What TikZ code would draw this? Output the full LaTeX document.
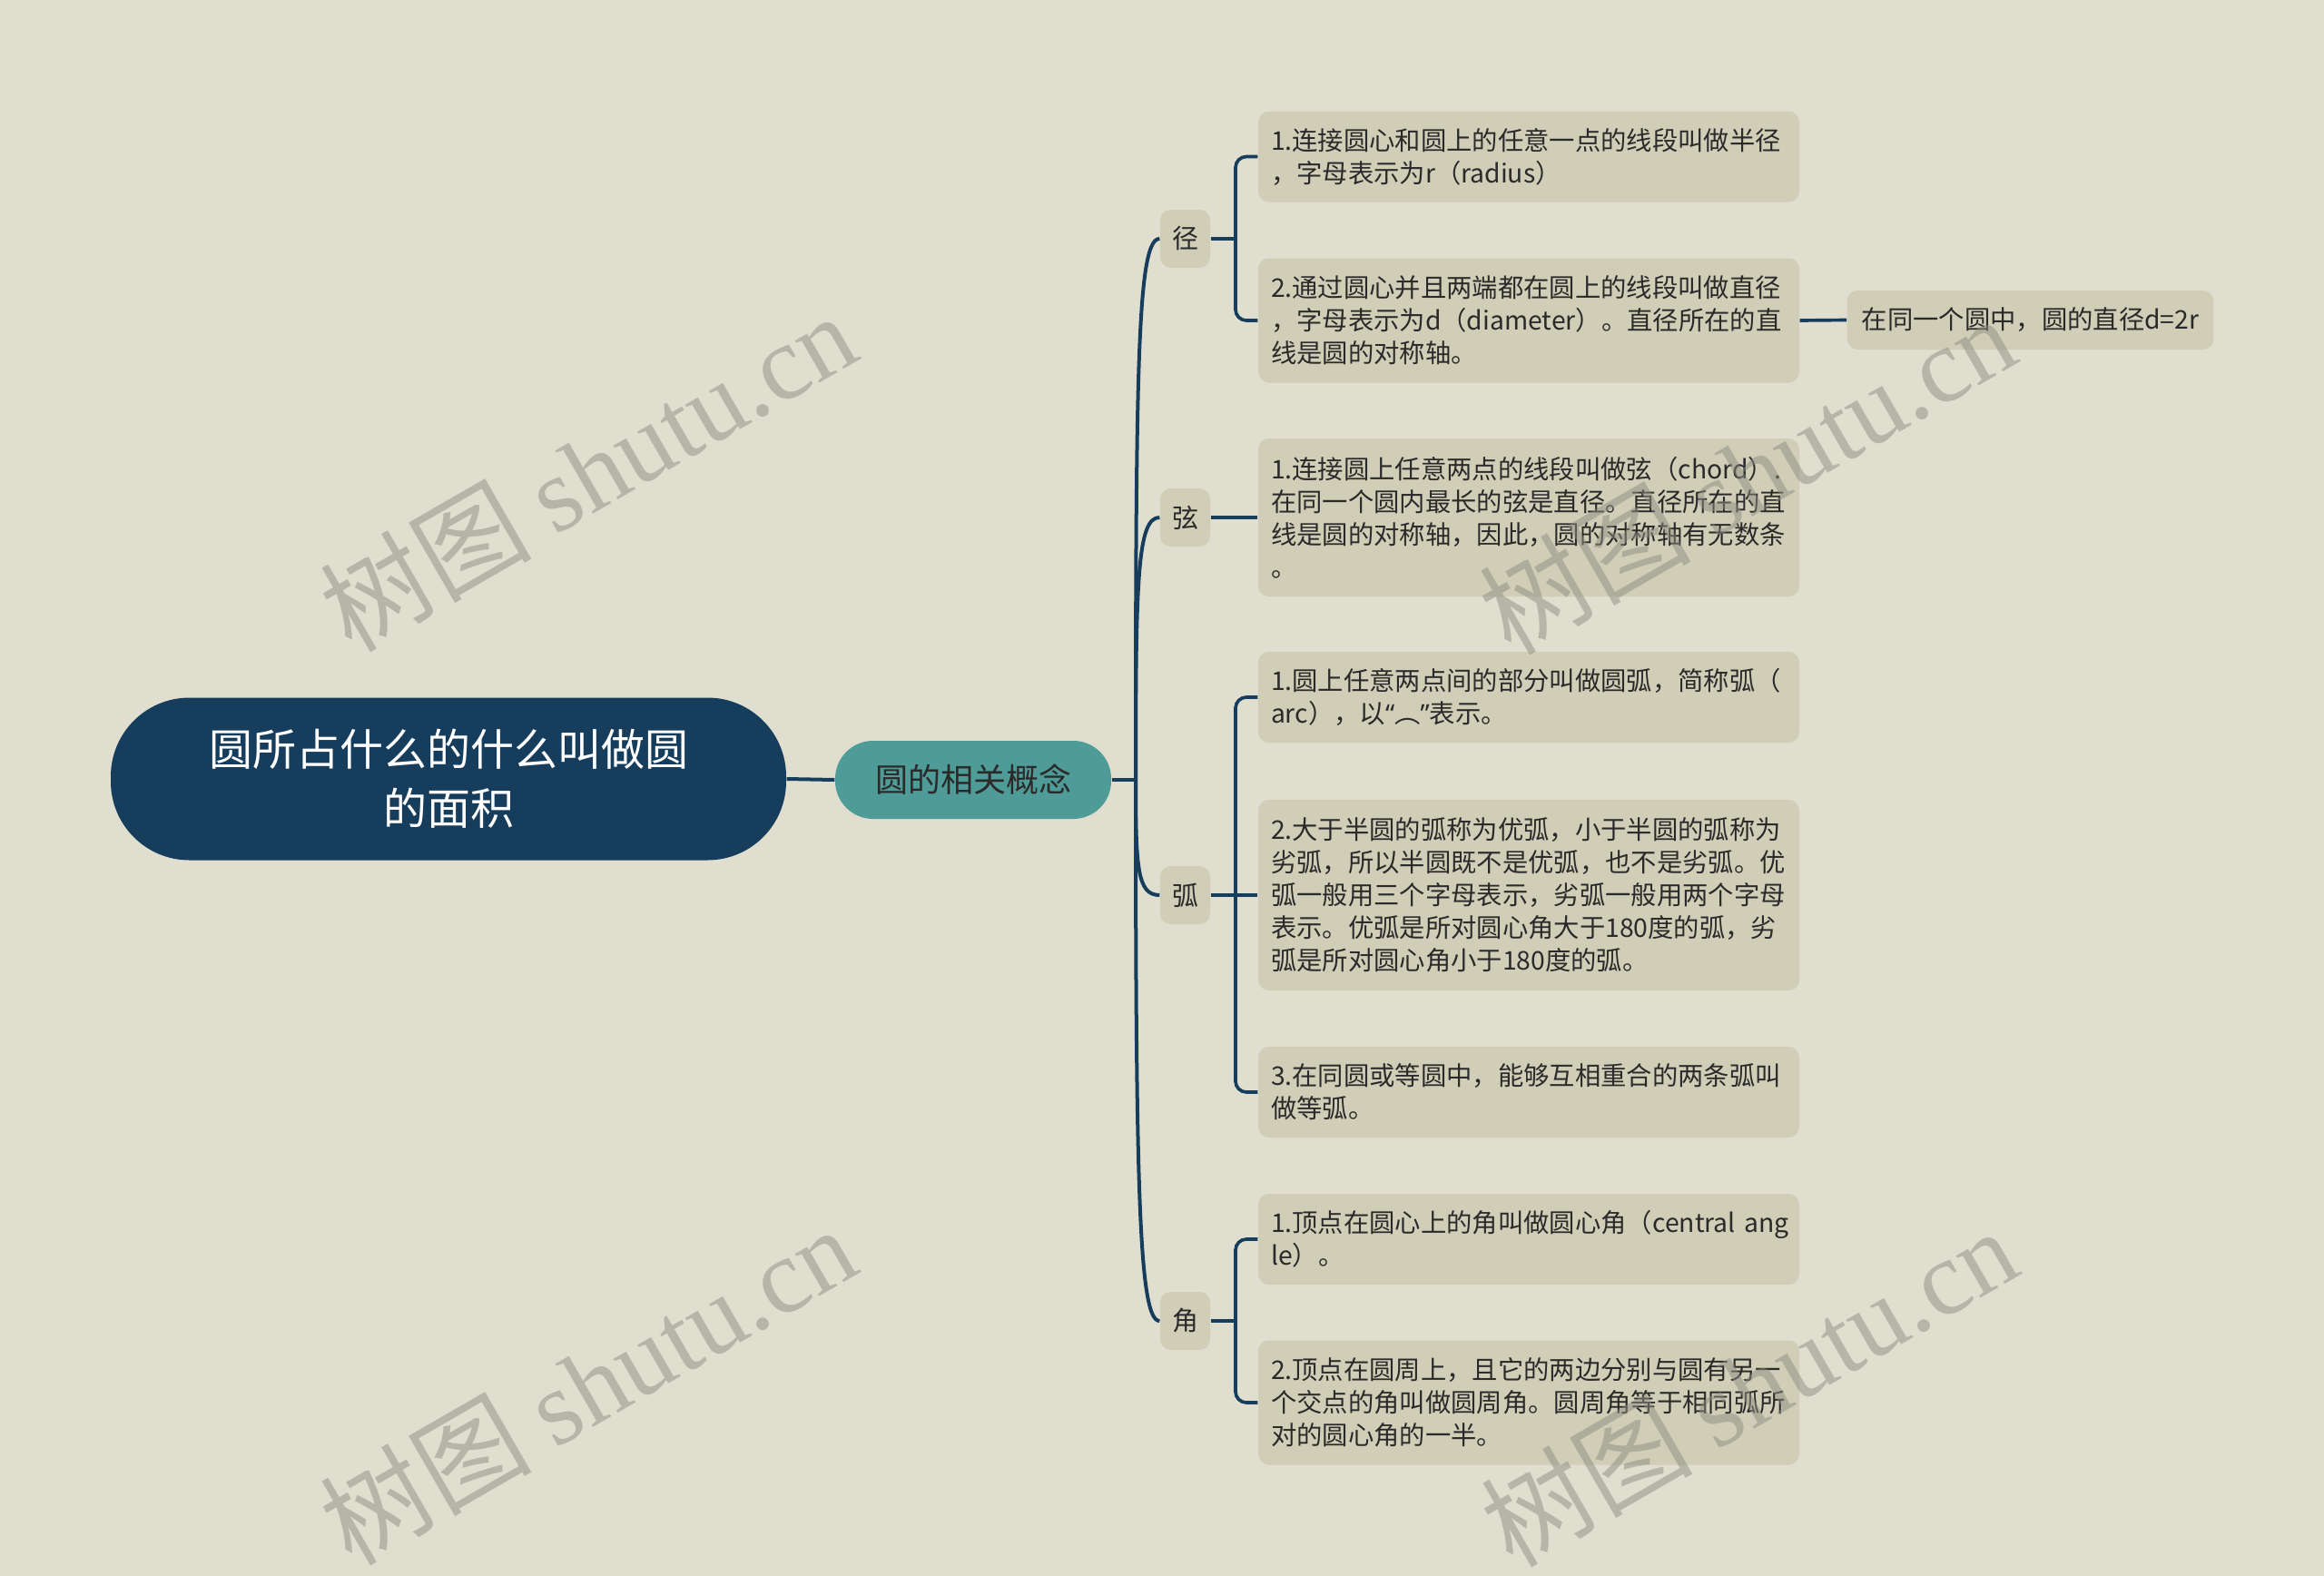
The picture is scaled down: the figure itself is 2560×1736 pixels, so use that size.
\documentclass[tikz,border=0pt]{standalone}
\usepackage{fontspec}
\setmainfont{Noto Sans CJK SC}
\newfontfamily\wmfont{Liberation Serif}
\newfontfamily\latq{Noto Sans}
\definecolor{bg}{HTML}{E0DFCF}
\definecolor{boxc}{HTML}{D0CEB7}
\definecolor{navy}{HTML}{173D5C}
\definecolor{tealc}{HTML}{4F9B97}
\definecolor{txt}{HTML}{2A2A2A}
\definecolor{wmc}{HTML}{8E8E82}
\begin{document}
\begin{tikzpicture}[x=0.3pt,y=-0.3pt,
  rootbox/.style={rectangle, rounded corners=26pt, fill=navy, text=white, minimum width=223.2pt, minimum height=53.7pt, align=center, font=\fontsize{14.4pt}{19.5pt}\selectfont, inner sep=0pt},
  topicbox/.style={rectangle, rounded corners=12.5pt, fill=tealc, text=txt, minimum width=91.2pt, minimum height=25.8pt, font=\fontsize{10.8pt}{13pt}\selectfont, inner sep=0pt},
  subbox/.style={rectangle, rounded corners=3.5pt, fill=boxc, text=txt, minimum width=16.5pt, minimum height=19.2pt, font=\fontsize{8.7pt}{10.8pt}\selectfont, inner sep=0pt},
  leafbox/.style={rectangle, rounded corners=3.5pt, fill=boxc, text=txt, minimum width=178.8pt, text width=170.4pt, inner xsep=4.2pt, inner ysep=0pt, align=left, font=\fontsize{8.5pt}{10.8pt}\selectfont},
  notebox/.style={rectangle, rounded corners=3.5pt, fill=boxc, text=txt, minimum width=120.3pt, minimum height=19.5pt, inner xsep=4.8pt, inner ysep=0pt, font=\fontsize{8.5pt}{10.8pt}\selectfont},
  conn/.style={draw=navy, line width=1.2pt},
  br/.style={draw=navy, line width=1.1pt, rounded corners=3.6pt},
  wmark/.style={text=wmc, opacity=0.5, rotate=30, font=\fontsize{35pt}{40pt}\selectfont}
]
\fill[bg] (0,0) rectangle (2560,1736);
\useasboundingbox (0,0) rectangle (2560,1736);

% nodes
\node[rootbox] (root) at (494,858) {圆所占什么的什么叫做圆\\的面积};
\node[topicbox] (topic) at (1072,859) {圆的相关概念};
\node[subbox] (jing) at (1305.5,263) {径};
\node[subbox] (xian) at (1305.5,570) {弦};
\node[subbox] (hu) at (1305.5,986) {弧};
\node[subbox] (jiao) at (1305.5,1455) {角};

\node[leafbox, minimum height=30pt] (j1) at (1684,172.5) {1.连接圆心和圆上的任意一点的线段叫做半径\\，字母表示为r（radius）};
\node[leafbox, minimum height=41.1pt] (j2) at (1684,353) {2.通过圆心并且两端都在圆上的线段叫做直径\\，字母表示为d（diameter）。直径所在的直\\线是圆的对称轴。};
\node[notebox] (k1) at (2236.5,352.5) {在同一个圆中，圆的直径d=2r};
\node[leafbox, minimum height=52.2pt] (x1) at (1684,570) {1.连接圆上任意两点的线段叫做弦（chord）.\\在同一个圆内最长的弦是直径。直径所在的直\\线是圆的对称轴，因此，圆的对称轴有无数条\\。};
\node[leafbox, minimum height=30pt] (h1) at (1684,768) {1.圆上任意两点间的部分叫做圆弧，简称弧（\\arc），以{\latq “}︵{\latq ”}表示。};
\node[leafbox, minimum height=63pt] (h2) at (1684,986) {2.大于半圆的弧称为优弧，小于半圆的弧称为\\劣弧，所以半圆既不是优弧，也不是劣弧。优\\弧一般用三个字母表示，劣弧一般用两个字母\\表示。优弧是所对圆心角大于180度的弧，劣\\弧是所对圆心角小于180度的弧。};
\node[leafbox, minimum height=30pt] (h3) at (1684,1203) {3.在同圆或等圆中，能够互相重合的两条弧叫\\做等弧。};
\node[leafbox, minimum height=30pt] (a1) at (1684,1365) {1.顶点在圆心上的角叫做圆心角（central~ang\\le）。};
\node[leafbox, minimum height=41.1pt] (a2) at (1684,1545) {2.顶点在圆周上，且它的两边分别与圆有另一\\个交点的角叫做圆周角。圆周角等于相同弧所\\对的圆心角的一半。};

% connectors
\coordinate (trunk) at (1251,859);
\coordinate (bx) at (1361,0);
\draw[conn] (root.east) -- (topic.west);
\draw[conn] (topic.east) -- (trunk);
\draw[conn] (trunk) .. controls (1251,400) and (1253,263) .. (jing.west);
\draw[conn] (trunk) .. controls (1251,636) and (1253,570) .. (xian.west);
\draw[conn] (trunk) .. controls (1251,957) and (1253,986) .. (hu.west);
\draw[conn] (trunk) .. controls (1251,1318) and (1255,1455) .. (jiao.west);

\draw[br] (jing.east) -- (jing.east -| bx);
\draw[br] (j1.west) -- (j1.west -| bx) -- (j2.west -| bx) -- (j2.west);
\draw[br] (j2.east) -- (k1.west);
\draw[br] (xian.east) -- (x1.west);
\draw[br] (hu.east) -- (h2.west);
\draw[br] (h1.west) -- (h1.west -| bx) -- (h3.west -| bx) -- (h3.west);
\draw[br] (jiao.east) -- (jiao.east -| bx);
\draw[br] (a1.west) -- (a1.west -| bx) -- (a2.west -| bx) -- (a2.west);

% watermarks
\node[wmark] (w1) at (647,519) {树图 {\wmfont shutu.cn}};
\node[wmark] (w2) at (647,1525) {树图 {\wmfont shutu.cn}};
\node[wmark] (w3) at (1924,522) {树图 {\wmfont shutu.cn}};
\node[wmark] (w4) at (1926,1527) {树图 {\wmfont shutu.cn}};
\end{tikzpicture}
\end{document}
